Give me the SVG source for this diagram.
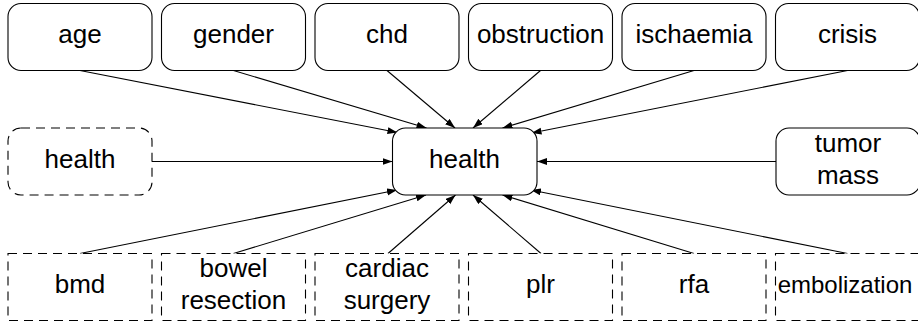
<svg xmlns="http://www.w3.org/2000/svg" width="918" height="322" viewBox="0 0 918 322">
  <style>
    .node rect { fill: #ffffff; stroke: #000000; stroke-width: 1.1; }
    .node.dashed rect { stroke-dasharray: 9 6; }
    .node text { font-family: "Liberation Sans", Arial, sans-serif; font-size: 26px; fill: #000000; text-anchor: middle; }
    .node text.narrow { font-size: 24px; }
    .edges line { stroke: #000000; stroke-width: 1.1; marker-end: url(#arrow); }
  </style>
  <defs>
    <marker id="arrow" markerUnits="userSpaceOnUse" markerWidth="11" markerHeight="8" refX="10" refY="3.5" orient="auto">
      <path d="M0,0 L10,3.5 L0,7 z" fill="#000000"/>
    </marker>
  </defs>

  <!-- connectors: every cause points into the central health node -->
  <g id="edges" class="edges">
    <line x1="80" y1="70.5" x2="397.5" y2="132.5"/>
    <line x1="233.5" y1="70.5" x2="426.5" y2="128"/>
    <line x1="387" y1="70.5" x2="455" y2="128"/>
    <line x1="540.5" y1="70.5" x2="473" y2="128"/>
    <line x1="694" y1="70.5" x2="502.5" y2="128"/>
    <line x1="847.5" y1="70.5" x2="531.5" y2="133"/>
    <line x1="152" y1="161.5" x2="392.5" y2="161.5"/>
    <line x1="776" y1="161.5" x2="537" y2="161.5"/>
    <line x1="80" y1="253.5" x2="397" y2="190"/>
    <line x1="233.5" y1="253.5" x2="426" y2="195"/>
    <line x1="388" y1="253.5" x2="455.5" y2="195"/>
    <line x1="541" y1="253.5" x2="473" y2="195"/>
    <line x1="694" y1="253.5" x2="502.5" y2="195"/>
    <line x1="847.5" y1="253.5" x2="531" y2="190"/>
  </g>

  <!-- top row -->
  <g id="age" class="node"><rect x="8" y="3.5" width="144" height="67" rx="13"/><text x="80" y="43">age</text></g>
  <g id="gender" class="node"><rect x="161.5" y="3.5" width="144" height="67" rx="13"/><text x="233.5" y="43">gender</text></g>
  <g id="chd" class="node"><rect x="315" y="3.5" width="144" height="67" rx="13"/><text x="387" y="43">chd</text></g>
  <g id="obstruction" class="node"><rect x="468.5" y="3.5" width="144" height="67" rx="13"/><text x="540.5" y="43">obstruction</text></g>
  <g id="ischaemia" class="node"><rect x="622" y="3.5" width="144" height="67" rx="13"/><text x="694" y="43">ischaemia</text></g>
  <g id="crisis" class="node"><rect x="775.5" y="3.5" width="144" height="67" rx="13"/><text x="847.5" y="43">crisis</text></g>

  <!-- middle row -->
  <g id="health_prev" class="node dashed"><rect x="8" y="128" width="144" height="67" rx="13"/><text x="80" y="168">health</text></g>
  <g id="health" class="node"><rect x="392.5" y="128" width="144.5" height="67" rx="13"/><text x="464.5" y="168">health</text></g>
  <g id="tumor_mass" class="node"><rect x="776" y="128" width="144" height="67" rx="13"/><text x="848" y="152">tumor</text><text x="848" y="183.5">mass</text></g>

  <!-- bottom row -->
  <g id="bmd" class="node dashed"><rect x="8" y="253.5" width="144" height="67"/><text x="80" y="293">bmd</text></g>
  <g id="bowel_resection" class="node dashed"><rect x="161.5" y="253.5" width="144" height="67"/><text x="233.5" y="277">bowel</text><text x="233.5" y="309">resection</text></g>
  <g id="cardiac_surgery" class="node dashed"><rect x="315" y="253.5" width="144" height="67"/><text x="387" y="277">cardiac</text><text x="387" y="309">surgery</text></g>
  <g id="plr" class="node dashed"><rect x="468.5" y="253.5" width="144" height="67"/><text x="540.5" y="293">plr</text></g>
  <g id="rfa" class="node dashed"><rect x="622" y="253.5" width="144" height="67"/><text x="694" y="293">rfa</text></g>
  <g id="embolization" class="node dashed"><rect x="775.5" y="253.5" width="144" height="67"/><text class="narrow" x="845" y="292.5">embolization</text></g>
</svg>
